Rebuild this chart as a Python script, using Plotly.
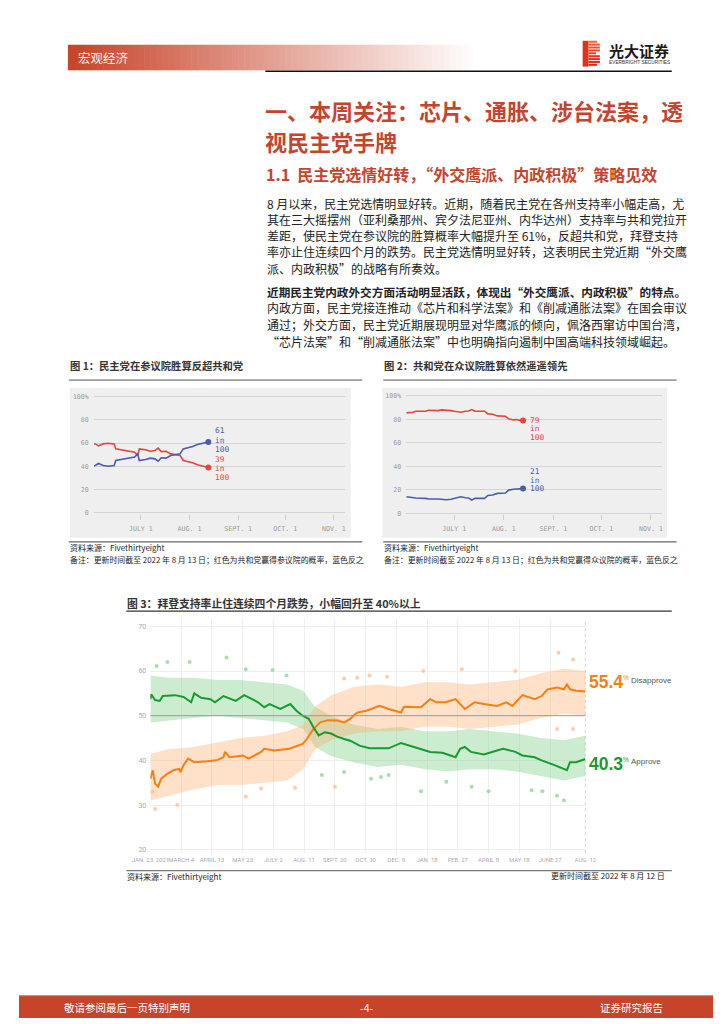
import plotly.graph_objects as go

W, H = 724, 1024
def px(x): return x / W
def py(y): return 1 - y / H

CJK = "Noto Sans CJK SC"
MONO = "DejaVu Sans Mono"
SANS = "Liberation Sans"

# ---------------- Figure 1: Senate forecast ----------------
senate_dates = ["2022-06-01","2022-06-02","2022-06-04","2022-06-07","2022-06-10","2022-06-14","2022-06-15",
                "2022-06-19","2022-06-23","2022-06-27","2022-06-29","2022-06-30","2022-07-04","2022-07-07",
                "2022-07-10","2022-07-12","2022-07-14","2022-07-17","2022-07-20","2022-07-23","2022-07-26",
                "2022-07-28","2022-07-31","2022-08-03","2022-08-06","2022-08-09","2022-08-11","2022-08-13"]
senate_rep = [59.5,59.3,57.6,59.3,59.9,59.3,55.0,54.2,53.0,52.1,49.3,55.0,54.2,53.0,
              53.6,55.6,52.7,53.0,50.7,49.9,49.3,45.0,44.1,43.0,41.3,40.1,39.5,39.0]
senate_dem = [40.5,40.7,42.4,40.7,40.1,40.7,45.0,45.8,47.0,47.9,50.7,45.0,45.8,47.0,
              46.4,44.4,47.3,47.0,49.3,50.1,50.7,55.0,55.9,57.0,58.7,59.9,60.5,61.0]

# ---------------- Figure 2: House forecast ----------------
house_dates = ["2022-06-01","2022-06-05","2022-06-07","2022-06-13","2022-06-15","2022-06-21","2022-06-23",
               "2022-06-26","2022-06-29","2022-07-01","2022-07-05","2022-07-08","2022-07-10","2022-07-12",
               "2022-07-14","2022-07-20","2022-07-22","2022-07-25","2022-07-28","2022-08-02","2022-08-04",
               "2022-08-07","2022-08-09","2022-08-12","2022-08-13"]
house_rep = [85.4,85.9,86.8,86.8,87.6,87.3,87.9,87.9,87.3,86.8,85.9,86.8,87.0,88.2,
             86.8,86.8,84.5,84.2,82.8,82.5,80.3,79.4,79.7,78.6,79.0]
house_dem = [14.1,13.2,13.0,12.7,12.1,12.1,12.0,11.5,12.0,12.7,14.1,13.2,13.0,11.3,
             12.7,12.7,15.2,15.5,16.9,17.2,19.7,20.4,20.8,21.1,21.0]

forecast_ticks = ["2022-07-01","2022-08-01","2022-09-01","2022-10-01","2022-11-01"]
forecast_ticktext = ["JULY 1","AUG. 1","SEPT. 1","OCT. 1","NOV. 1"]
prob_ticks = [0, 20, 40, 60, 80, 100]
prob_ticktext = ["0", "20", "40", "60", "80", "100%"]

# ---------------- Figure 3: Biden approval ----------------
approve_dates = ["2021-01-23","2021-01-24","2021-01-29","2021-02-04","2021-02-08","2021-02-24","2021-03-07",
                 "2021-03-17","2021-03-21","2021-03-30","2021-04-11","2021-04-17","2021-04-28","2021-05-14",
                 "2021-05-25","2021-06-04","2021-06-12","2021-06-20","2021-06-27","2021-07-11","2021-07-24",
                 "2021-08-01","2021-08-09","2021-08-17","2021-08-23","2021-08-30","2021-09-07","2021-09-15",
                 "2021-09-23","2021-10-02","2021-10-10","2021-10-22","2021-11-04","2021-11-29","2021-12-15",
                 "2022-01-01","2022-01-22","2022-02-07","2022-02-24","2022-03-02","2022-03-08","2022-03-16",
                 "2022-04-02","2022-04-19","2022-04-27","2022-05-13","2022-05-22","2022-06-07","2022-06-16",
                 "2022-07-02","2022-07-10","2022-07-19","2022-07-23","2022-07-31","2022-08-12"]
approve = [53.7,54.8,53.5,53.3,54.4,54.6,54.2,53.0,55.0,54.0,53.7,53.0,54.4,53.3,
           54.6,53.7,53.0,51.9,52.6,51.5,52.6,51.1,50.0,49.3,47.4,45.6,46.3,46.0,
           45.3,44.8,44.4,43.3,42.7,42.7,43.9,43.0,41.9,41.7,40.7,42.6,43.0,41.9,
           41.3,42.2,42.6,41.9,41.1,40.7,40.0,39.0,38.5,37.8,39.6,39.6,40.3]

disapprove_dates = ["2021-01-23","2021-01-26","2021-01-29","2021-02-02","2021-02-06","2021-02-14","2021-02-22",
                    "2021-03-01","2021-03-03","2021-03-07","2021-03-13","2021-03-21","2021-04-07","2021-04-19",
                    "2021-04-28","2021-04-30","2021-05-06","2021-05-23","2021-05-31","2021-06-08","2021-06-16",
                    "2021-06-20","2021-07-03","2021-07-23","2021-08-03","2021-08-09","2021-08-13","2021-08-23",
                    "2021-09-01","2021-09-11","2021-09-23","2021-10-02","2021-10-10","2021-10-19","2021-10-31",
                    "2021-11-17","2021-11-29","2021-12-15","2021-12-19","2022-01-05","2022-01-10","2022-01-22",
                    "2022-01-30","2022-02-11","2022-02-24","2022-03-08","2022-03-21","2022-04-02","2022-04-19",
                    "2022-05-01","2022-05-09","2022-05-22","2022-06-07","2022-06-16","2022-06-24","2022-07-06",
                    "2022-07-15","2022-07-19","2022-07-23","2022-07-31","2022-08-12"]
disapprove = [35.9,37.8,34.8,34.1,35.9,37.0,37.8,38.1,37.4,38.9,40.4,39.6,39.8,40.0,
              40.7,41.9,40.7,41.1,40.4,41.1,41.9,42.6,42.2,42.6,43.3,43.7,44.4,47.0,
              48.5,49.0,48.9,48.5,49.3,50.7,51.1,52.2,51.5,50.7,52.0,51.8,51.9,53.7,
              53.0,53.0,53.7,51.5,53.0,52.6,52.2,53.0,52.2,54.6,53.7,54.4,55.9,56.3,
              55.9,57.0,55.9,55.6,55.4]

band_dates = ["2021-01-23","2021-02-15","2021-03-20","2021-04-20","2021-05-20","2021-06-20","2021-07-20",
              "2021-08-10","2021-08-25","2021-09-15","2021-10-15","2021-11-15","2021-12-15","2022-01-15",
              "2022-02-15","2022-03-15","2022-04-15","2022-05-15","2022-06-15","2022-07-15","2022-08-12"]
approve_hi = [59.0,58.5,58.5,58.0,58.0,57.5,57.0,55.5,52.0,50.0,48.0,47.0,47.5,46.5,46.5,47.0,46.5,46.0,45.0,44.5,45.5]
approve_lo = [48.5,49.0,49.5,50.0,49.5,49.0,48.5,47.0,43.0,41.0,39.5,38.5,39.0,38.0,37.5,38.0,38.0,37.5,36.5,35.5,36.5]
disapprove_hi = [41.5,42.5,43.0,44.0,45.0,45.5,46.5,48.0,52.0,54.5,56.5,57.0,56.5,57.5,57.5,57.0,57.5,58.0,59.5,60.5,60.0]
disapprove_lo = [31.0,32.0,33.5,34.5,34.5,35.0,35.5,38.0,42.5,44.5,46.0,46.5,46.5,47.5,47.5,47.0,47.5,48.0,49.5,50.5,50.0]

approve_poll_dates = ["2021-01-31","2021-02-14","2021-03-15","2021-05-02","2021-05-27","2021-07-01","2021-07-19",
                      "2021-09-03","2021-10-02","2021-11-06","2021-11-19","2021-11-29","2022-01-10","2022-02-12",
                      "2022-03-17","2022-04-08","2022-06-03","2022-06-17","2022-07-06","2022-07-15"]
approve_polls = [61.1,62.0,62.0,63.0,60.4,60.2,59.0,36.7,37.4,35.9,36.3,36.7,33.1,35.2,34.1,33.1,33.3,33.1,32.1,31.1]
disapprove_poll_dates = ["2021-01-26","2021-01-29","2021-02-27","2021-05-27","2021-06-16","2021-07-30","2021-09-20",
                         "2021-10-02","2021-10-19","2021-11-04","2021-11-27","2022-01-13","2022-03-04","2022-05-13",
                         "2022-07-08","2022-07-27","2022-07-06","2022-07-27"]
disapprove_polls = [33.0,29.1,30.0,31.9,33.7,33.9,34.1,58.3,58.5,59.0,58.7,60.0,60.4,60.0,64.1,62.6,47.0,47.0]

approval_ticks = ["2021-01-23","2021-03-04","2021-04-13","2021-05-23","2021-07-02","2021-08-11","2021-09-20",
                  "2021-10-30","2021-12-09","2022-01-18","2022-02-27","2022-04-08","2022-05-18","2022-06-27","2022-08-12"]
approval_ticktext = ["JAN. 23, 2021","MARCH 4","APRIL 13","MAY 23","JULY 2","AUG. 11","SEPT. 20",
                     "OCT. 30","DEC. 9","JAN. 18","FEB. 27","APRIL 8","MAY 18","JUNE 27","AUG. 12"]

# ---------------- page text ----------------
title_lines = ["一、本周关注：芯片、通胀、涉台法案，透", "视民主党手牌"]
subtitle = "1.1  民主党选情好转，“外交鹰派、内政积极”策略见效"
para1 = ["8 月以来，民主党选情明显好转。近期，随着民主党在各州支持率小幅走高，尤",
         "其在三大摇摆州（亚利桑那州、宾夕法尼亚州、内华达州）支持率与共和党拉开",
         "差距，使民主党在参议院的胜算概率大幅提升至 61%，反超共和党，拜登支持",
         "率亦止住连续四个月的跌势。民主党选情明显好转，这表明民主党近期“外交鹰",
         "派、内政积极”的战略有所奏效。"]
para2 = ["近期民主党内政外交方面活动明显活跃，体现出“外交鹰派、内政积极”的特点。",
         "内政方面，民主党接连推动《芯片和科学法案》和《削减通胀法案》在国会审议",
         "通过；外交方面，民主党近期展现明显对华鹰派的倾向，佩洛西窜访中国台湾，",
         "“芯片法案”和“削减通胀法案”中也明确指向遏制中国高端科技领域崛起。"]

RED1, BLUE1 = "#e5453b", "#4a5bb0"
GREEN, ORANGE = "#179a30", "#f77f12"
TITLE_RED = "#c4452f"

fig = go.Figure()

# Figure 1 traces
fig.add_trace(go.Scatter(x=senate_dates, y=senate_rep, mode="lines", line=dict(color=RED1, width=1.6),
                         xaxis="x", yaxis="y", hoverinfo="skip"))
fig.add_trace(go.Scatter(x=senate_dates, y=senate_dem, mode="lines", line=dict(color=BLUE1, width=1.6),
                         xaxis="x", yaxis="y", hoverinfo="skip"))
fig.add_trace(go.Scatter(x=[senate_dates[-1], senate_dates[-1]], y=[senate_rep[-1], senate_dem[-1]], mode="markers",
                         marker=dict(color=[RED1, BLUE1], size=6), xaxis="x", yaxis="y", hoverinfo="skip"))
# Figure 2 traces
fig.add_trace(go.Scatter(x=house_dates, y=house_rep, mode="lines", line=dict(color=RED1, width=1.6),
                         xaxis="x2", yaxis="y2", hoverinfo="skip"))
fig.add_trace(go.Scatter(x=house_dates, y=house_dem, mode="lines", line=dict(color=BLUE1, width=1.6),
                         xaxis="x2", yaxis="y2", hoverinfo="skip"))
fig.add_trace(go.Scatter(x=[house_dates[-1], house_dates[-1]], y=[house_rep[-1], house_dem[-1]], mode="markers",
                         marker=dict(color=[RED1, BLUE1], size=6), xaxis="x2", yaxis="y2", hoverinfo="skip"))

# Figure 3 bands
fig.add_trace(go.Scatter(x=band_dates + band_dates[::-1], y=approve_hi + approve_lo[::-1], fill="toself",
                         fillcolor="rgba(120,205,130,0.38)", line=dict(width=0), mode="lines",
                         xaxis="x3", yaxis="y3", hoverinfo="skip"))
fig.add_trace(go.Scatter(x=band_dates + band_dates[::-1], y=disapprove_hi + disapprove_lo[::-1], fill="toself",
                         fillcolor="rgba(255,170,105,0.36)", line=dict(width=0), mode="lines",
                         xaxis="x3", yaxis="y3", hoverinfo="skip"))
fig.add_trace(go.Scatter(x=approve_poll_dates, y=approve_polls, mode="markers",
                         marker=dict(color="rgba(140,210,150,0.75)", size=4), xaxis="x3", yaxis="y3", hoverinfo="skip"))
fig.add_trace(go.Scatter(x=disapprove_poll_dates, y=disapprove_polls, mode="markers",
                         marker=dict(color="rgba(255,190,140,0.75)", size=4), xaxis="x3", yaxis="y3", hoverinfo="skip"))
fig.add_trace(go.Scatter(x=disapprove_dates, y=disapprove, mode="lines", line=dict(color=ORANGE, width=2),
                         xaxis="x3", yaxis="y3", hoverinfo="skip"))
fig.add_trace(go.Scatter(x=approve_dates, y=approve, mode="lines", line=dict(color=GREEN, width=2),
                         xaxis="x3", yaxis="y3", hoverinfo="skip"))

def ydom(p_lo, p_hi):
    return [py(p_lo), py(p_hi)]

monofont = dict(family=MONO, size=6.6, color="#9a9a9a")
fig.update_layout(
    width=W, height=H, margin=dict(l=0, r=0, t=0, b=0),
    paper_bgcolor="white", plot_bgcolor="rgba(0,0,0,0)", showlegend=False,
    font=dict(family=CJK), hovermode=False,
    xaxis=dict(domain=[px(78), px(340)], range=["2022-06-01", "2022-11-08"], anchor="y",
               tickvals=forecast_ticks, ticktext=forecast_ticktext, showgrid=False, zeroline=False,
               showline=False, ticks="outside", ticklen=5, tickcolor="#cccccc", tickfont=monofont,
               ticklabelstandoff=3, tickangle=0),
    yaxis=dict(domain=ydom(512.7 + 1.17, 396 - 1.17), range=[-1, 101], anchor="x",
               tickvals=prob_ticks, ticktext=prob_ticktext, showgrid=True, gridcolor="#d4d4d4",
               zeroline=False, showline=False, ticks="", tickfont=monofont, ticklabelstandoff=4),
    xaxis2=dict(domain=[px(404), px(671)], range=["2022-06-01", "2022-11-08"], anchor="y2",
                tickvals=forecast_ticks, ticktext=forecast_ticktext, showgrid=False, zeroline=False,
                showline=False, ticks="outside", ticklen=5, tickcolor="#cccccc", tickfont=monofont,
                ticklabelstandoff=3, tickangle=0),
    yaxis2=dict(domain=ydom(513.3 + 1.18, 395 - 1.18), range=[-1, 101], anchor="x2",
                tickvals=prob_ticks, ticktext=prob_ticktext, showgrid=True, gridcolor="#d4d4d4",
                zeroline=False, showline=False, ticks="", tickfont=monofont, ticklabelstandoff=4),
    xaxis3=dict(domain=[px(137), px(591)], range=["2021-01-22 20:00", "2022-08-12 04:00"], anchor="y3",
                tickvals=approval_ticks, ticktext=approval_ticktext, showgrid=True, gridcolor="#efefef",
                zeroline=False, showline=False, ticks="", tickangle=0,
                tickfont=dict(family="Roboto", size=6, color="#aaaaaa"), ticklabelstandoff=2),
    yaxis3=dict(domain=ydom(855, 620), range=[19.27, 71.56], anchor="x3",
                tickvals=[20, 30, 40, 50, 60, 70], ticktext=["20", "30", "40", "50", "60", "70"],
                showgrid=True, gridcolor="#efefef",
                zeroline=False, showline=False, ticks="", tickfont=dict(family="Roboto", size=7, color="#aaaaaa"),
                ticklabelstandoff=3),
)

shapes = []
def rect(x0, y0, x1, y1, color, layer="below"):
    shapes.append(dict(type="rect", xref="paper", yref="paper", x0=px(x0), x1=px(x1), y0=py(y1), y1=py(y0),
                       fillcolor=color, line=dict(width=0), layer=layer))
def hline(x0, x1, y, color, width=1, dash="solid"):
    shapes.append(dict(type="line", xref="paper", yref="paper", x0=px(x0), x1=px(x1), y0=py(y), y1=py(y),
                       line=dict(color=color, width=width, dash=dash)))

# header gradient band
n = 70
x_start, x_end = 51, 480
for i in range(n):
    f = i / (n - 1)
    r = int(200 + (255 - 200) * f)
    g = int(68 + (255 - 68) * f)
    b = int(42 + (255 - 42) * f)
    xa = x_start + (x_end - x_start) * i / n
    xb = x_start + (x_end - x_start) * (i + 1) / n + 0.6
    rect(xa, 42, xb, 67.7, f"rgb({r},{g},{b})")
hline(257, 681, 68.6, "#111111", 1.5)

# logo
rect(588, 38, 594, 64, "#e4301f", layer="above")
stripe_cols = ["#f4652e", "#f25a2b", "#f04f28", "#ee4525", "#ec3b23", "#ea3221", "#e82b1f", "#e6261e", "#e2211c"]
for i, c in enumerate(stripe_cols):
    y0 = 38 + i * 2.9
    right = 606 if i not in (4,) else 602
    if i in (0, 8):
        right = 603
    rect(594, y0, right, y0 + 2.0, c, layer="above")

# figure 1 & 2 frames
for (x0, x1, px0, px1) in [(52, 358, 53, 346), (380, 686, 379, 676)]:
    hline(x0, x1, 379.3, "#555555", 1)
    rect(px0, 387, px1, 538, "#efefef")
    hline(x0, x1, 542, "#666666", 1.2)

# figure 3 frame
hline(112, 681, 611.7, "#333333", 1.2)
hline(112, 681, 872.7, "#777777", 1.2)
shapes.append(dict(type="line", xref="x3 domain", yref="y3", x0=0, x1=1, y0=50, y1=50,
                   line=dict(color="#9a9a9a", width=1)))
shapes.append(dict(type="line", xref="x3", yref="y3 domain", x0="2022-08-12", x1="2022-08-12", y0=0, y1=1,
                   line=dict(color="#b0b0b0", width=1, dash="dot")))

# footer
rect(0, 998, 724, 1021, "#c5442a")
hline(0, 724, 998.5, "#e08a78", 1)

fig.update_layout(shapes=shapes)

ann = []
def txt(x, y, s, size, color="#222222", xanchor="left", family=CJK, bold=False):
    ann.append(dict(x=px(x), y=py(y), xref="paper", yref="paper", text=(f"<b>{s}</b>" if bold else s),
                    showarrow=False, xanchor=xanchor, yanchor="middle", borderpad=0,
                    font=dict(size=size, color=color, family=family)))

txt(60, 54.5, "宏观经济", 12.5, "#fdf0ec")
txt(614, 48, "光大证券", 15, "#1a1a1a", bold=True)
txt(614.5, 60, "EVERBRIGHT SECURITIES", 4.8, "#333333", family=SANS)

txt(256, 108, title_lines[0], 22, TITLE_RED, bold=True)
txt(256, 138.5, title_lines[1], 22, TITLE_RED, bold=True)
txt(257, 172, subtitle, 16, TITLE_RED, bold=True)

for i, line in enumerate(para1):
    txt(258, 201.7 + i * 16.25, line, 12, "#222222")
for i, line in enumerate(para2):
    if i == 0:
        txt(258, 290, line, 11.65, "#222222", bold=True)
    else:
        txt(258, 290 + i * 16.7, line, 12, "#222222")

# figure titles & sources
txt(52, 365, "图 1：民主党在参议院胜算反超共和党", 10.3, "#333333", bold=True)
txt(380, 365, "图 2：共和党在众议院胜算依然遥遥领先", 10.3, "#333333", bold=True)
txt(52, 548, "资料来源：Fivethirtyeight", 8, "#222222")
txt(52, 560, "备注：更新时间截至 2022 年 8 月 13 日；红色为共和党赢得参议院的概率，蓝色反之", 7.9, "#222222")
txt(380, 548, "资料来源：Fivethirtyeight", 8, "#222222")
txt(380, 560, "备注：更新时间截至 2022 年 8 月 13 日；红色为共和党赢得众议院的概率，蓝色反之", 7.9, "#222222")

txt(112, 603.3, "图 3：拜登支持率止住连续四个月跌势，小幅回升至 40%以上", 10.8, "#333333", bold=True)
txt(112, 878.5, "资料来源：Fivethirtyeight", 8, "#222222")
txt(675, 878, "更新时间截至 2022 年 8 月 12 日", 8, "#222222", xanchor="right")

# end labels fig 1/2
for (x, ys, col, val) in [(203, (430.5, 440, 449), BLUE1, senate_dem[-1]), (203, (459.5, 468.5, 477.5), RED1, senate_rep[-1]),
                          (532.5, (419.5, 428.3, 437), RED1, house_rep[-1]), (532.5, (471.2, 480, 488.8), BLUE1, house_dem[-1])]:
    for y, s in zip(ys, [f"{val:.0f}", "in", "100"]):
        txt(x, y, s, 7.8, col, family=MONO)

# end labels fig 3
txt(593.5, 683.5, f"{disapprove[-1]:.1f}", 17.5, ORANGE, family=SANS, bold=True)
txt(629, 678.5, "%", 6.5, ORANGE, family=SANS)
txt(637.5, 681, "Disapprove", 8, "#555555", family=SANS)
txt(593.5, 765.5, f"{approve[-1]:.1f}", 17.5, GREEN, family=SANS, bold=True)
txt(629, 760.5, "%", 6.5, GREEN, family=SANS)
txt(637.5, 763, "Approve", 8, "#555555", family=SANS)

# footer text
txt(46, 1010.5, "敬请参阅最后一页特别声明", 10.5, "#ffffff")
txt(362, 1010.5, "-4-", 10.5, "#ffffff", xanchor="center")
txt(673, 1010.5, "证券研究报告", 10.5, "#ffffff", xanchor="right")

fig.update_layout(annotations=ann)
fig.write_html("out.html", config={"displayModeBar": False, "staticPlot": True},
               post_script="document.body.style.margin='0';document.body.style.overflow='hidden';")
